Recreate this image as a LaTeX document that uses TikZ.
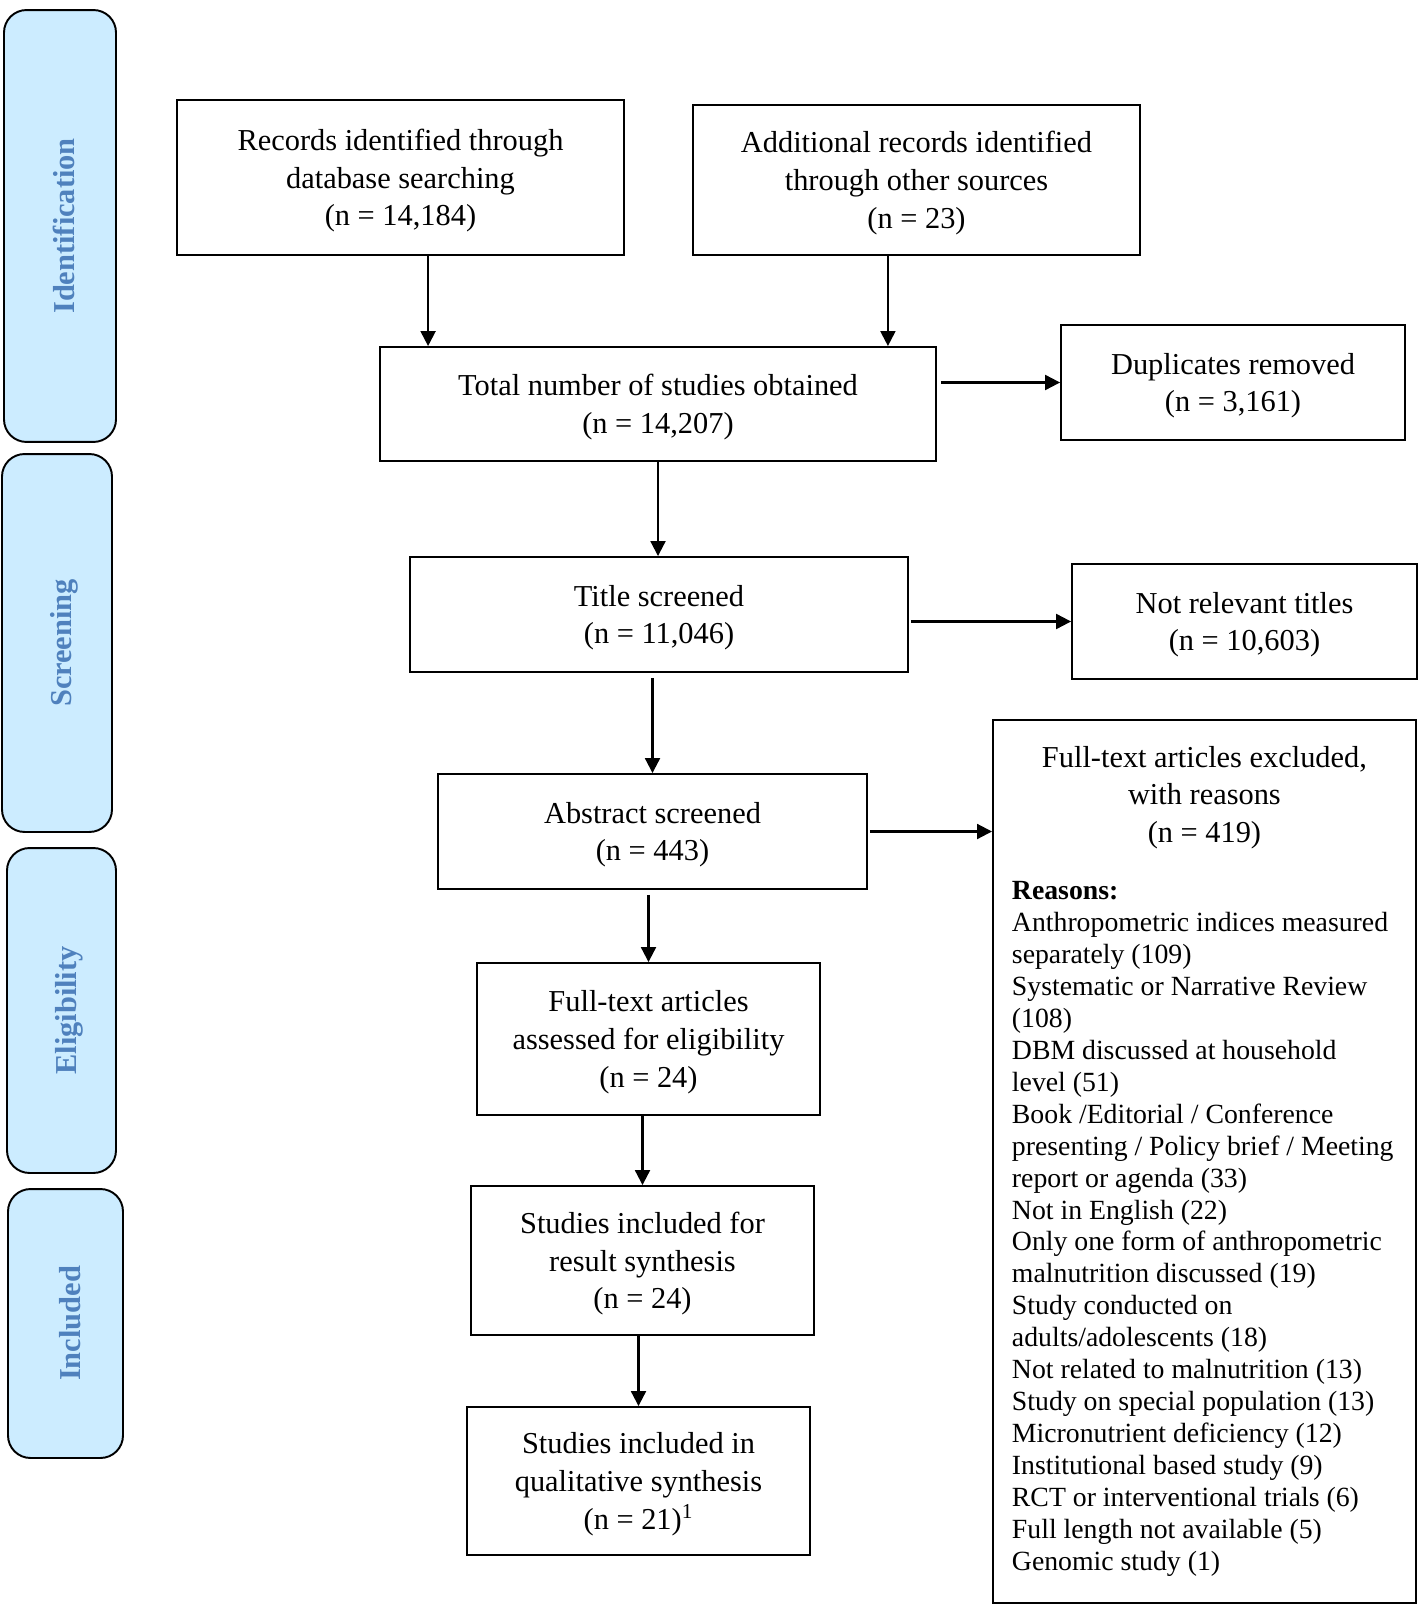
\documentclass[tikz,border=0pt]{standalone}
\usepackage{fontspec}
\setmainfont{Liberation Serif}
\usetikzlibrary{arrows.meta}

\definecolor{stagefill}{RGB}{204,236,255}
\definecolor{stagetext}{RGB}{79,129,189}

\begin{document}
\begin{tikzpicture}[
        x=0.02cm, y=-0.02cm,
        font=\fontsize{17.3}{21.5}\selectfont,
        box/.style={rectangle, draw=black, line width=1.1pt, align=center, inner sep=0pt, text depth=0pt},
        reasonbox/.style={rectangle, draw=black, line width=1.1pt, inner sep=0pt},
        stage/.style={rectangle, draw=black, line width=1.1pt, fill=stagefill, rounded corners=0.45cm, rotate=90, text=stagetext, text height=21pt, text depth=4pt, font=\fontsize{17.3}{21.5}\selectfont\bfseries},
        arrow/.style={-{Triangle[length=8.5pt, width=8.5pt]}, line width=1.2pt}
        ]
        \useasboundingbox (0,0) rectangle (1423,1604);

        % phases on the left
        \node[stage, minimum width=8.64cm, minimum height=2.24cm] (ident) at (60,226) {Identification};
        \node[stage, minimum width=7.56cm, minimum height=2.20cm] (screen) at (57,643) {Screening};
        \node[stage, minimum width=6.50cm, minimum height=2.18cm] (elig) at (61.5,1010.5) {Eligibility};
        \node[stage, minimum width=5.38cm, minimum height=2.30cm] (incl) at (65.5,1323.5) {Included};

        % main column
        \node[box, minimum width=8.94cm, minimum height=3.10cm] (records) at (400.5,177.5) {Records identified through\\database searching\\(n = 14,184)};
        \node[box, minimum width=8.94cm, minimum height=3.00cm] (additional) at (916.5,180) {Additional records identified\\through other sources\\(n = 23)};
        \node[box, minimum width=11.12cm, minimum height=2.28cm] (total) at (658,404) {Total number of studies obtained\\(n = 14,207)};
        \node[box, minimum width=6.88cm, minimum height=2.30cm] (duplicates) at (1233,382.5) {Duplicates removed\\(n = 3,161)};
        \node[box, minimum width=9.96cm, minimum height=2.30cm] (title) at (659,614.5) {Title screened\\(n = 11,046)};
        \node[box, minimum width=6.90cm, minimum height=2.30cm] (notrelevant) at (1244.5,621.5) {Not relevant titles\\(n = 10,603)};
        \node[box, minimum width=8.58cm, minimum height=2.30cm] (abstract) at (652.5,831.5) {Abstract screened\\(n = 443)};
        \node[box, minimum width=6.86cm, minimum height=3.04cm] (fulltext) at (648.5,1039) {Full-text articles\\assessed for eligibility\\(n = 24)};
        \node[box, minimum width=6.86cm, minimum height=2.98cm] (result) at (642.5,1260.5) {Studies included for\\result synthesis\\(n = 24)};
        \node[box, minimum width=6.86cm, minimum height=2.96cm] (qualitative) at (638.5,1481) {Studies included in\\qualitative synthesis\\(n = 21)\textsuperscript{1}};

        % exclusions with reasons
        \node[reasonbox, anchor=north west, minimum width=8.46cm, minimum height=17.66cm] (excluded) at (992,719) {\begin{minipage}{8.46cm}
            \centering Full-text articles excluded,\\ with reasons\\ (n = 419)\par
            \vspace{14pt}
            \raggedright\leftskip=0.38cm \fontsize{15.8}{18.2}\selectfont
            \textbf{Reasons:}\\
            Anthropometric indices measured\\
            separately (109)\\
            Systematic or Narrative Review\\
            (108)\\
            DBM discussed at household\\
            level (51)\\
            Book /Editorial / Conference\\
            presenting / Policy brief / Meeting\\
            report or agenda (33)\\
            Not in English (22)\\
            Only one form of anthropometric\\
            malnutrition discussed (19)\\
            Study conducted on\\
            adults/adolescents (18)\\
            Not related to malnutrition (13)\\
            Study on special population (13)\\
            Micronutrient deficiency (12)\\
            Institutional based study (9)\\
            RCT or interventional trials (6)\\
            Full length not available (5)\\
            Genomic study (1)\par
        \end{minipage}};

        \coordinate (inleft) at ([xshift=0.98cm]total.north west);
        \coordinate (inright) at ([xshift=-0.98cm]total.north east);

        \draw[arrow] (records.south -| inleft) -- (inleft);
        \draw[arrow] (additional.south -| inright) -- (inright);
        \draw[arrow] ([xshift=0.08cm]total.east |- duplicates.west) -- (duplicates.west);
        \draw[arrow] (total.south) -- (total.south |- title.north);
        \draw[arrow] ([xshift=0.04cm]title.east |- notrelevant.west) -- (notrelevant.west);
        \draw[arrow] ([yshift=-0.1cm]title.south -| abstract.north) -- (abstract.north);
        \draw[arrow] ([xshift=0.04cm]abstract.east) -- (abstract.east -| excluded.west);
        \draw[arrow] ([yshift=-0.1cm]abstract.south -| fulltext.north) -- (fulltext.north);
        \draw[arrow] (fulltext.south -| result.north) -- (result.north);
        \draw[arrow] (result.south -| qualitative.north) -- (qualitative.north);
    \end{tikzpicture}
\end{document}
